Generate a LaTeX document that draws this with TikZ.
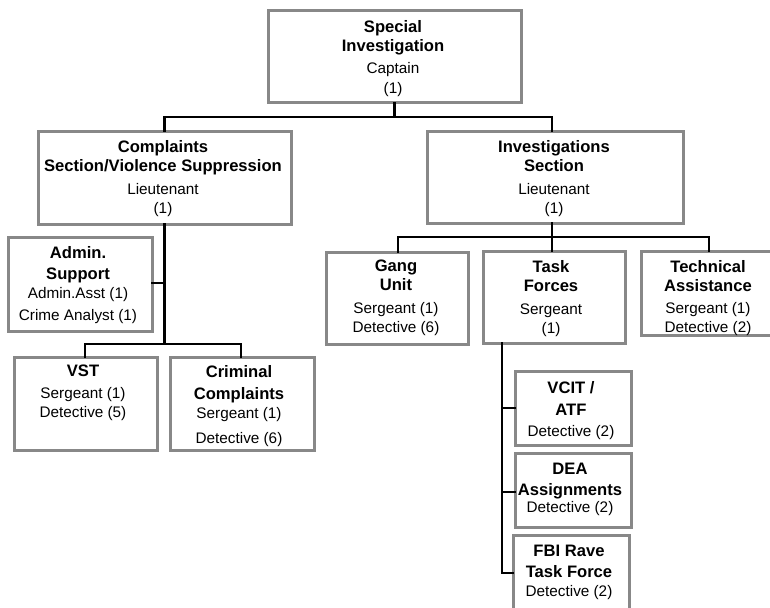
\documentclass[tikz,border=0pt]{standalone}
\usepackage{fontspec}
\setmainfont{Liberation Sans}
\definecolor{boxgray}{RGB}{136,136,136}
\newcommand{\hd}[1]{{\fontsize{16.6}{19}\selectfont\bfseries #1}}
\tikzset{
  box/.style={draw=boxgray, line width=3pt, fill=white, inner sep=0pt, outer sep=0pt},
  conn/.style={line width=2.8pt, black, line cap=rect},
  txt/.style={align=center, inner sep=0pt, anchor=north, yshift=11.9pt,
    font=\fontsize{15.3}{19}\selectfont},
}
\newcommand{\bx}[5]{% name, x1, y1, x2, y2
  \node[box, minimum width={(#4-#2)*1pt}, minimum height={(#5-#3)*1pt}]
    (#1) at ({(#2+#4)/2},{(#3+#5)/2}) {};}
\begin{document}
\begin{tikzpicture}[x=1pt,y=-1pt]
\useasboundingbox (0,0) rectangle (770,607);

% junction points of the connector tree
\coordinate (j1) at (394.5,117);
\coordinate (j1l) at (164.5,117);
\coordinate (j1r) at (552,117);
\coordinate (j2) at (164.5,344);
\coordinate (j2a) at (164.5,283);
\coordinate (j2l) at (85,344);
\coordinate (j2r) at (241,344);
\coordinate (j3) at (552,237);
\coordinate (j3l) at (398,237);
\coordinate (j3r) at (709,237);
\coordinate (tfx) at (502,343);
\coordinate (tfb1) at (502,408);
\coordinate (tfb2) at (502,492);
\coordinate (tfb3) at (502,573);

% boxes
\bx{SI}{268}{11}{521}{103}
\bx{CS}{38}{131}{291}{224}
\bx{IS}{427}{131}{683}{223}
\bx{AS}{8}{237}{152}{331}
\bx{VST}{14}{357}{157}{450}
\bx{CC}{170}{357}{314}{450}
\bx{GU}{326}{252}{468}{344}
\bx{TF}{483}{251}{625}{343}
\bx{TA}{641}{251}{782}{335}
\bx{VC}{515}{371}{631}{445}
\bx{DEA}{515}{453}{631}{527}
\bx{FBI}{513}{535}{629}{622}

\begin{scope}[conn]
\draw (SI.south) -- (j1);
\draw (j1l) -- (j1r);
\draw (j1l) -- (CS.north);
\draw (j1r) -- (IS.north -| j1r);
\draw (CS.south) -- (j2);
\draw (AS.east |- j2a) -- (j2a);
\draw (j2l) -- (j2r);
\draw (j2l) -- (VST.north -| j2l);
\draw (j2r) -- (CC.north -| j2r);
\draw (IS.south -| j3) -- (j3);
\draw (j3l) -- (j3r);
\draw (j3l) -- (GU.north -| j3l);
\draw (j3) -- (TF.north -| j3);
\draw (j3r) -- (TA.north -| j3r);
\draw (TF.south -| tfx) -- (tfb3);
\draw (tfb1) -- (VC.west |- tfb1);
\draw (tfb2) -- (DEA.west |- tfb2);
\draw (tfb3) -- (FBI.west |- tfb3);
\end{scope}

% labels (placed by the baseline of their first line)
\node[txt] (tSI) at (393,32) {\hd{Special}\\\hd{Investigation}\\[3pt]Captain\\[1pt](1)};
\node[txt] (tCS) at (163,152) {\hd{Complaints}\\\hd{Section/Violence Suppression}\\[4pt]Lieutenant\\(1)};
\node[txt] (tIS) at (554,152) {\hd{Investigations}\\\hd{Section}\\[4pt]Lieutenant\\(1)};
\node[txt] (tAS) at (78,258) {\hd{Admin.}\\[2pt]\hd{Support}\\Admin.Asst (1)\\[3pt]Crime Analyst (1)};
\node[txt] (tVST) at (83,377) {\hd{VST}\\[3pt]Sergeant (1)\\Detective (5)};
\node[txt] (tCC) at (239,377) {\hd{Criminal}\\[3pt]\hd{Complaints}\\Sergeant (1)\\[6pt]Detective (6)};
\node[txt] (tGU) at (396,272) {\hd{Gang}\\\hd{Unit}\\[4pt]Sergeant (1)\\Detective (6)};
\node[txt] (tTF) at (551,272) {\hd{Task}\\\hd{Forces}\\[4pt]Sergeant\\(1)};
\node[txt] (tTA) at (708,272) {\hd{Technical}\\\hd{Assistance}\\[3pt]Sergeant (1)\\Detective (2)};
\node[txt] (tVC) at (571,393) {\hd{VCIT /}\\[3pt]\hd{ATF}\\[2pt]Detective (2)};
\node[txt] (tDEA) at (570,475) {\hd{DEA}\\[2pt]\hd{Assignments}\\[-2pt]Detective (2)};
\node[txt] (tFBI) at (569,557) {\hd{FBI Rave}\\[2pt]\hd{Task Force}\\Detective (2)};
\end{tikzpicture}
\end{document}
